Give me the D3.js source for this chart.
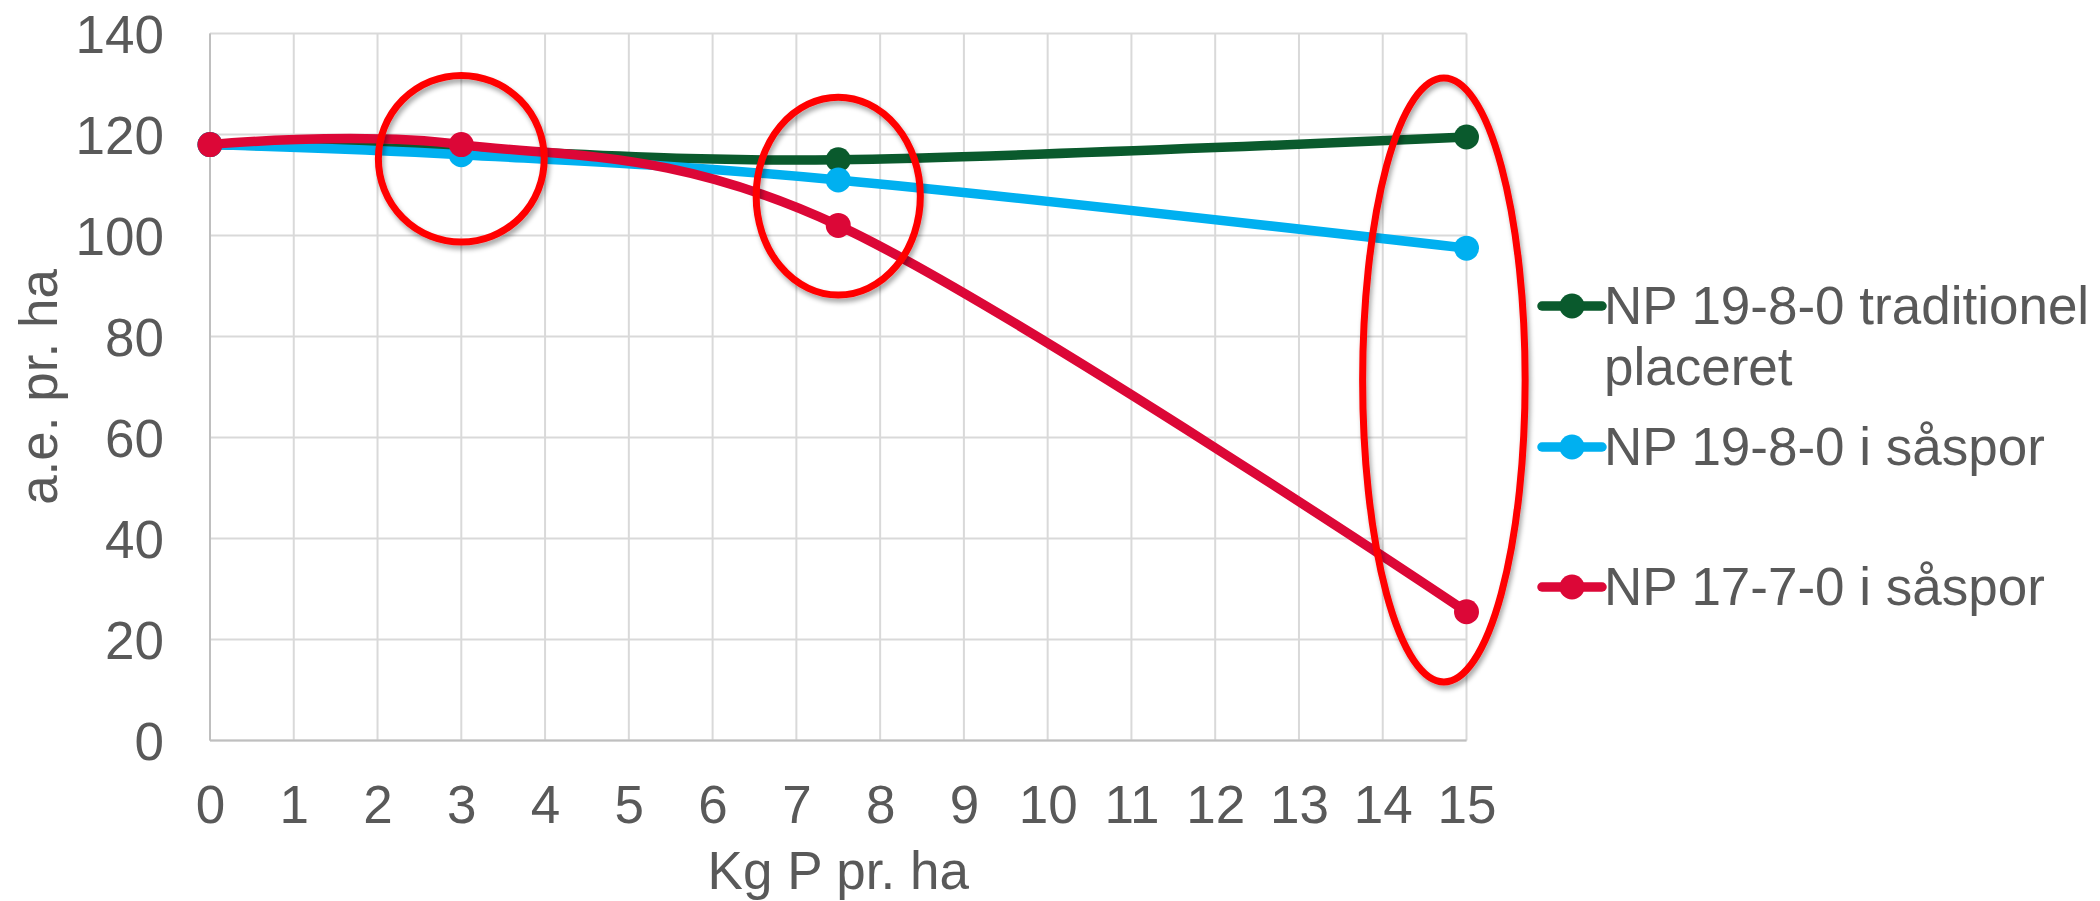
<!DOCTYPE html>
<html><head><meta charset="utf-8">
<script src="https://cdn.jsdelivr.net/npm/d3@7"></script>
<style>
body{margin:0;background:#fff}
text{font-family:"Liberation Sans",Arial,sans-serif;fill:#595959}
</style>
</head><body><svg id="c" width="2100" height="901"></svg>
<script>
// ---- data ----
const xValues = [0, 3, 7.5, 15];
const seriesNames = ["NP 19-8-0 traditionel placeret", "NP 19-8-0 i såspor", "NP 17-7-0 i såspor"];
const greenValues = [118, 117, 115, 119.5];
const blueValues  = [118, 116, 111, 97.5];
const redValues   = [118, 118, 102, 25.5];
const seriesColors = ["#0A5A2D", "#00B0F0", "#DC0737"];
const xTicks = [0,1,2,3,4,5,6,7,8,9,10,11,12,13,14,15];
const yTicks = [0,20,40,60,80,100,120,140];
const xTitle = "Kg P pr. ha";
const yTitle = "a.e. pr. ha";
// annotation ellipses (data units)
const ellipseCx = [3, 7.5, 14.73];
const ellipseCy = [115.2, 107.8, 71.4];
const ellipseRx = [0.99, 0.98, 0.97];
const ellipseRy = [16.5, 19.6, 59.8];

// ---- layout ----
const svg = d3.select("#c");
const L = 210, R = 1466.5, T = 33.5, B = 740.5;
const FS = 53;
const x = d3.scaleLinear().domain([0, 15]).range([L, R]);
const y = d3.scaleLinear().domain([0, 140]).range([B, T]);

const defs = svg.append("defs");
const f = defs.append("filter").attr("id","sh").attr("x","-20%").attr("y","-20%").attr("width","140%").attr("height","140%");
f.append("feGaussianBlur").attr("in","SourceAlpha").attr("stdDeviation",2.5).attr("result","b");
f.append("feOffset").attr("in","b").attr("dx",2).attr("dy",4).attr("result","o");
f.append("feComponentTransfer").attr("in","o").attr("result","o2")
  .append("feFuncA").attr("type","linear").attr("slope",0.35);
const fm = f.append("feMerge");
fm.append("feMergeNode").attr("in","o2");
fm.append("feMergeNode").attr("in","SourceGraphic");

// grid
svg.append("g").selectAll("line").data(xTicks).join("line")
  .attr("x1", d => x(d)).attr("x2", d => x(d)).attr("y1", T).attr("y2", B)
  .attr("stroke", "#D9D9D9").attr("stroke-width", 2);
svg.append("g").selectAll("line").data(yTicks).join("line")
  .attr("x1", L).attr("x2", R).attr("y1", d => y(d)).attr("y2", d => y(d))
  .attr("stroke", "#D9D9D9").attr("stroke-width", 2);
// axis lines
svg.append("line").attr("x1", L).attr("x2", L).attr("y1", T).attr("y2", B).attr("stroke", "#BFBFBF").attr("stroke-width", 2);
svg.append("line").attr("x1", L).attr("x2", R).attr("y1", B).attr("y2", B).attr("stroke", "#BFBFBF").attr("stroke-width", 2);

// axes tick labels via d3 axes
const xAxis = svg.append("g").attr("transform", `translate(0,${B})`)
  .call(d3.axisBottom(x).tickValues(xTicks).tickSize(0).tickPadding(0).tickFormat(d3.format("d")));
xAxis.select(".domain").remove();
xAxis.selectAll("text").attr("dy", null).attr("y", 82).attr("font-size", FS).attr("fill", "#595959");

const yAxis = svg.append("g").attr("transform", `translate(164,0)`)
  .call(d3.axisLeft(y).tickValues(yTicks).tickSize(0).tickPadding(0).tickFormat(d3.format("d")));
yAxis.select(".domain").remove();
yAxis.selectAll("text").attr("dy", "0.36em").attr("x", 0).attr("font-size", FS).attr("fill", "#595959");

// titles
svg.append("text").attr("x", (L + R) / 2).attr("y", 889).attr("text-anchor", "middle")
  .attr("font-size", FS).text(xTitle);
svg.append("text").attr("transform", `translate(57,${(T + B) / 2}) rotate(-90)`)
  .attr("text-anchor", "middle").attr("font-size", FS).text(yTitle);

// series
const series = [greenValues, blueValues, redValues];
const line = d3.line().x(d => x(d[0])).y(d => y(d[1])).curve(d3.curveCardinal.tension(0));
series.forEach((vals, i) => {
  const pts = xValues.map((xv, j) => [xv, vals[j]]);
  const g = svg.append("g");
  g.append("path").attr("d", line(pts)).attr("fill", "none")
    .attr("stroke", seriesColors[i]).attr("stroke-width", 9.5).attr("stroke-linecap", "round");
  g.selectAll("circle").data(pts).join("circle")
    .attr("cx", d => x(d[0])).attr("cy", d => y(d[1])).attr("r", 12.5)
    .attr("fill", seriesColors[i]);
});

// ellipses
svg.append("g").selectAll("ellipse").data(ellipseCx).join("ellipse")
  .attr("cx", (d) => x(d))
  .attr("cy", (d, i) => y(ellipseCy[i]))
  .attr("rx", (d, i) => x(ellipseRx[i]) - x(0))
  .attr("ry", (d, i) => y(0) - y(ellipseRy[i]))
  .attr("fill", "none").attr("stroke", "#FF0000").attr("stroke-width", 7)
  .attr("filter", "url(#sh)");

// legend
const legY = [306, 447, 587];
const lg = svg.append("g");
seriesNames.forEach((name, i) => {
  lg.append("line").attr("x1", 1542).attr("x2", 1602).attr("y1", legY[i]).attr("y2", legY[i])
    .attr("stroke", seriesColors[i]).attr("stroke-width", 9.5).attr("stroke-linecap", "round");
  lg.append("circle").attr("cx", 1572).attr("cy", legY[i]).attr("r", 12.5).attr("fill", seriesColors[i]);
  const t = lg.append("text").attr("x", 1604).attr("y", legY[i] + 17.5).attr("font-size", FS);
  if (i === 0) {
    t.append("tspan").attr("x", 1604).text("NP 19-8-0 traditionel");
    t.append("tspan").attr("x", 1604).attr("dy", 61).text("placeret");
  } else {
    t.text(name);
  }
});
</script>
</body></html>
